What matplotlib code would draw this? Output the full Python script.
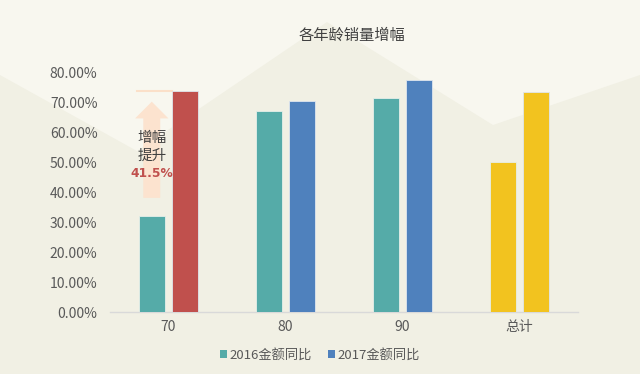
import matplotlib
matplotlib.use("Agg")
import matplotlib.pyplot as plt
from matplotlib.patches import Polygon, FancyArrow, Patch
from matplotlib import font_manager
import numpy as np

plt.rcParams['font.family'] = ['Noto Sans CJK SC', 'DejaVu Sans']

categories = ['70', '80', '90', '总计']
s2016 = [32.2, 67.4, 71.5, 50.3]
s2017 = [74.0, 70.7, 77.8, 73.6]
colors2016 = ['#55aba8', '#55aba8', '#55aba8', '#f2c31f']
colors2017 = ['#c0504d', '#4f81bd', '#4f81bd', '#f2c31f']
yticks = [0, 10, 20, 30, 40, 50, 60, 70, 80]
legend_labels = ['2016金额同比', '2017金额同比']
title = '各年龄销量增幅'

W, H = 640, 374
fig = plt.figure(figsize=(W / 100, H / 100), dpi=100)
fig.patch.set_facecolor('#f1f0e4')

# background light region (mountain silhouette)
bg = fig.add_axes([0, 0, 1, 1], zorder=-10)
bg.set_xlim(0, W)
bg.set_ylim(H, 0)
bg.axis('off')
light = [(0, 0), (640, 0), (640, 75), (493, 125), (327, 22), (137, 151), (0, 75)]
bg.add_patch(Polygon(light, closed=True, facecolor='#f8f7ef', edgecolor='none'))

ax = fig.add_axes([110 / W, 1 - 312 / H, 468 / W, (312 - 73) / H])
ax.set_facecolor('none')

x = np.arange(len(categories))
bw = 0.225
off = 0.143
ax.bar(x - off, s2016, bw, color=colors2016, edgecolor='#e6efe9', linewidth=0.6, zorder=3)
ax.bar(x + off, s2017, bw, color=colors2017, edgecolor='#dfe6ee', linewidth=0.6, zorder=3)

ax.set_xlim(-0.5, len(categories) - 0.5)
ax.set_ylim(0, 80)
ax.set_yticks(yticks)
ax.set_yticklabels([f'{v:.2f}%' for v in yticks])
ax.set_xticks(x)
ax.set_xticklabels(categories)
ax.tick_params(axis='both', length=0, colors='#595959', labelsize=10)
ax.tick_params(axis='y', pad=9)
ax.tick_params(axis='x', pad=6)
for s in ['top', 'right', 'left']:
    ax.spines[s].set_visible(False)
ax.spines['bottom'].set_color('#d9d9d9')
ax.spines['bottom'].set_linewidth(1)

# annotation: arrow and reference line
ax.plot([x[0] - off - bw / 2 - 0.01, x[0] + off - bw / 2], [s2017[0], s2017[0]],
        color='#fbe0c9', lw=1.5, zorder=2)
ax.add_patch(FancyArrow(x[0] - off, 38.2, 0, 70.4 - 38.2, width=0.145,
                        head_width=0.285, head_length=5.6,
                        length_includes_head=True, facecolor='#fce3cf',
                        edgecolor='none', zorder=2))
ax.text(x[0] - off, 58.3, '增幅', ha='center', va='center', fontsize=10.5, color='#404040', zorder=4)
ax.text(x[0] - off, 52.3, '提升', ha='center', va='center', fontsize=10.5, color='#404040', zorder=4)
names = {f.name for f in font_manager.fontManager.ttflist}
if 'Liberation Sans Narrow' in names:
    pct_family, pct_size = ['Liberation Sans Narrow'], 11
else:
    pct_family, pct_size = ['DejaVu Sans'], 8.8
ax.text(x[0] - off, 46.4, '41.5%', ha='center', va='center', fontsize=pct_size, color='#c0504d',
        fontweight='bold', family=pct_family, zorder=4)

fig.text(352 / W, 1 - 35 / H, title, ha='center', va='center', fontsize=11, color='#404040')

# legend
handles = [Patch(facecolor='#55aba8'), Patch(facecolor='#4f81bd')]
fig.legend(handles, legend_labels, loc='center', bbox_to_anchor=(320 / W, 1 - 355 / H),
           ncol=2, frameon=False, fontsize=9.5, handlelength=0.55, handleheight=0.55,
           handletextpad=0.2, columnspacing=1.2, labelcolor='#595959')

fig.savefig('out.png', dpi=100, facecolor=fig.get_facecolor())
